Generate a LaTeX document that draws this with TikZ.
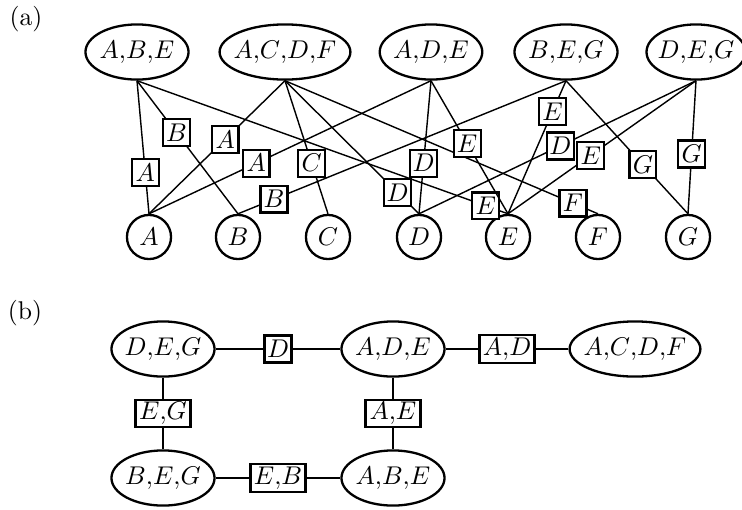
\documentclass[tikz,border=0pt]{standalone}
\usetikzlibrary{shapes.geometric}
\begin{document}
\begin{tikzpicture}[x=0.39pt,y=-0.39pt,
  clique/.style={ellipse,draw,line width=0.9pt,inner xsep=-2pt,inner ysep=3.1pt,minimum height=21.5pt},
  var/.style={circle,draw,line width=0.9pt,inner sep=0pt,minimum size=17.2pt},
  sepbox/.style={rectangle,draw,line width=0.9pt,fill=white,inner sep=1pt,minimum size=10.5pt},
  wsepbox/.style={sepbox,minimum width=21.5pt},
  conn/.style={line width=0.55pt}]
\useasboundingbox (0,0) rectangle (742,509);
% labels
\node (la) at (26,19) {(a)};
\node (lb) at (25,313) {(b)};
% (a) cliques
\node[clique,minimum width=40.2pt] (aABE) at (137,52) {$A{,}B{,}E$};
\node[clique,minimum width=50pt] (aACDF) at (285,52) {$A{,}C{,}D{,}F$};
\node[clique,minimum width=40pt] (aADE) at (431,52) {$A{,}D{,}E$};
\node[clique,minimum width=40.2pt] (aBEG) at (566,52) {$B{,}E{,}G$};
\node[clique,minimum width=38.6pt] (aDEG) at (696,52) {$D{,}E{,}G$};
% (a) variables
\node[var] (vA) at (149,237) {$A$};
\node[var] (vB) at (238,237) {$B$};
\node[var] (vC) at (328,237) {$C$};
\node[var] (vD) at (419,237) {$D$};
\node[var] (vE) at (508,237) {$E$};
\node[var] (vF) at (598,237) {$F$};
\node[var] (vG) at (688,237) {$G$};
% (a) connectors
\draw[conn] (aABE.south) -- node[sepbox,pos=0.69]{$A$} (vA.north);
\draw[conn] (aABE.south) -- node[sepbox,pos=0.39]{$B$} (vB.north);
\draw[conn] (aABE.south) -- node[sepbox,pos=0.94]{$E$} (vE.north);
\draw[conn] (aACDF.south) -- node[sepbox,pos=0.44]{$A$} (vA.north);
\draw[conn] (aACDF.south) -- node[sepbox,pos=0.62]{$C$} (vC.north);
\draw[conn] (aACDF.south) -- node[sepbox,pos=0.84]{$D$} (vD.north);
\draw[conn] (aACDF.south) -- node[sepbox,pos=0.92]{$F$} (vF.north);
\draw[conn] (aADE.south) -- node[sepbox,pos=0.62]{$A$} (vA.north);
\draw[conn] (aADE.south) -- node[sepbox,pos=0.62]{$D$} (vD.north);
\draw[conn] (aADE.south) -- node[sepbox,pos=0.47]{$E$} (vE.north);
\draw[conn] (aBEG.south) -- node[sepbox,pos=0.89]{$B$} (vB.north);
\draw[conn] (aBEG.south) -- node[sepbox,pos=0.23]{$E$} (vE.north);
\draw[conn] (aBEG.south) -- node[sepbox,pos=0.63]{$G$} (vG.north);
\draw[conn] (aDEG.south) -- node[sepbox,pos=0.49]{$D$} (vD.north);
\draw[conn] (aDEG.south) -- node[sepbox,pos=0.56]{$E$} (vE.north);
\draw[conn] (aDEG.south) -- node[sepbox,pos=0.55]{$G$} (vG.north);
% (b) junction tree
\node[clique,minimum width=40.2pt] (bDEG) at (163,349) {$D{,}E{,}G$};
\node[clique,minimum width=40.2pt] (bADE) at (393,349) {$A{,}D{,}E$};
\node[clique,minimum width=50.3pt] (bACDF) at (635,349) {$A{,}C{,}D{,}F$};
\node[clique,minimum width=40.2pt] (bBEG) at (163,478) {$B{,}E{,}G$};
\node[clique,minimum width=40.2pt] (bABE) at (393,478) {$A{,}B{,}E$};
\draw[conn] (bDEG) -- node[sepbox]{$D$} (bADE);
\draw[conn] (bADE) -- node[wsepbox]{$A{,}D$} (bACDF);
\draw[conn] (bDEG) -- node[wsepbox]{$E{,}G$} (bBEG);
\draw[conn] (bADE) -- node[wsepbox]{$A{,}E$} (bABE);
\draw[conn] (bBEG) -- node[wsepbox]{$E{,}B$} (bABE);
\end{tikzpicture}
\end{document}
